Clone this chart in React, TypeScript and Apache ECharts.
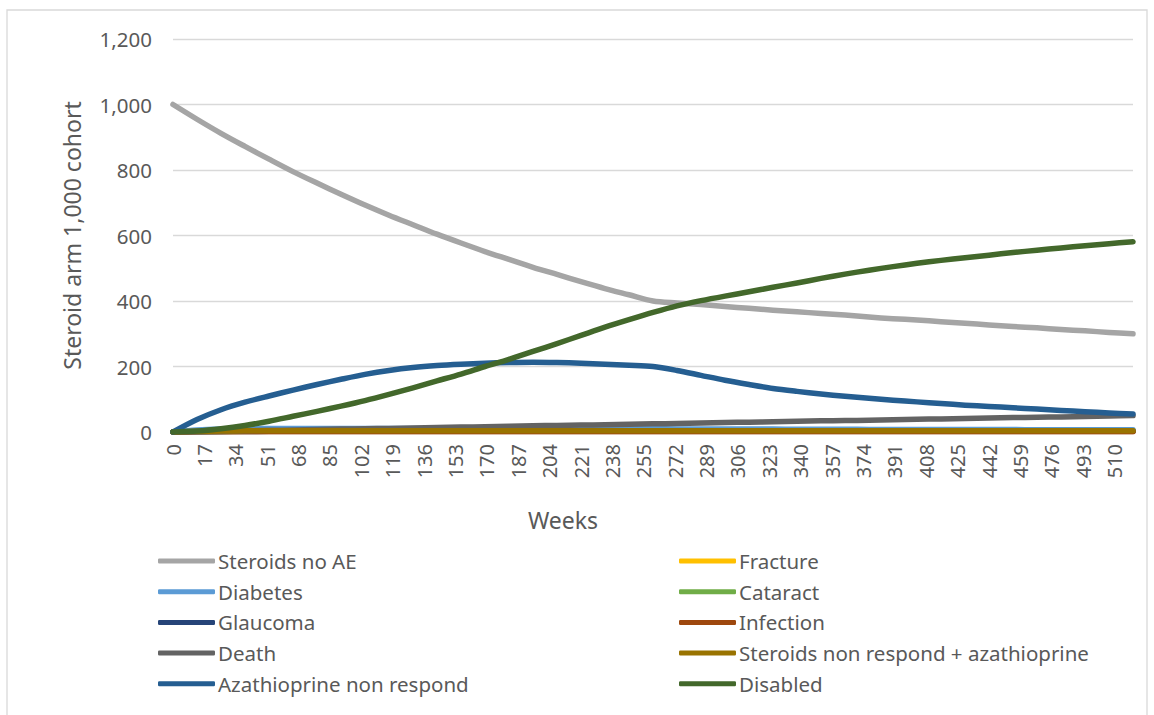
import React, { useEffect, useRef } from "react";
import * as echarts from "echarts";

const weeks = [0, 13, 26, 39, 52, 65, 78, 91, 104, 117, 130, 143, 156, 169, 182, 195, 208, 221, 234, 247, 260, 273, 286, 299, 312, 325, 338, 351, 364, 377, 390, 403, 416, 429, 442, 455, 468, 481, 494, 507, 520];

const steroidsNoAE = [1000, 955, 912, 872, 833, 795, 760, 726, 693, 662, 633, 604, 577, 551, 527, 503, 481, 459, 438, 419, 400, 394, 389, 383, 378, 372, 367, 362, 357, 351, 346, 342, 337, 332, 327, 322, 318, 313, 309, 304, 300];
const fracture = [0, 1, 1.5, 2, 2, 2, 2, 2, 2, 2, 2, 2, 2, 2, 2, 2, 2, 2, 2, 2, 2, 2, 2, 2, 2, 2, 2, 2, 2, 2, 2, 2, 2, 2, 2, 2, 2, 2, 2, 2, 2];
const diabetes = [0, 6, 9, 10, 11, 11, 11, 11, 11, 11, 11, 11, 10.5, 10.5, 10.5, 10, 10, 10, 10, 10, 10, 9.5, 9.5, 9, 9, 9, 8.5, 8.5, 8.5, 8, 8, 8, 8, 7.5, 7.5, 7.5, 7, 7, 7, 7, 7];
const cataract = [0, 1, 2, 2.5, 3, 3, 3, 3, 3, 3, 3, 3, 3, 3, 3, 3, 3, 3, 3, 3, 3, 3, 3, 3, 3, 3, 3, 3, 3, 3, 3, 3, 3, 3, 3, 3, 3, 3, 3, 3, 3];
const glaucoma = [0, 0.5, 1, 1.5, 2, 2, 2, 2, 2, 2, 2, 2, 2, 2, 2, 2, 2, 2, 2, 2, 2, 2, 2, 2, 2, 2, 2, 2, 2, 2, 2, 2, 2, 2, 2, 2, 2, 2, 2, 2, 2];
const infection = [0, 0.5, 1, 1, 1, 1, 1, 1, 1, 1, 1, 1, 1, 1, 1, 1, 1, 1, 1, 1, 1, 1, 1, 1, 1, 1, 1, 1, 1, 1, 1, 1, 1, 1, 1, 1, 1, 1, 1, 1, 1];
const death = [0, 1, 2.5, 4, 5, 6, 7.5, 9, 10, 11, 12.5, 14, 15, 16, 17.5, 19, 20, 21, 22.5, 24, 25, 26, 27.5, 29, 30, 31, 32.5, 34, 35, 36, 37.5, 39, 40, 41, 42.5, 44, 45, 46, 47.5, 49, 50];
const steroidsNonRespondAza = [0, 2, 3, 3.5, 4, 4, 4, 4, 4, 4, 4, 4, 4, 4, 4, 4, 4, 4, 4, 4, 4, 4, 4, 4, 4, 4, 4, 4, 4, 4, 4, 4, 4, 4, 4, 4, 4, 4, 4, 4, 4];
const azathioprineNonRespond = [0, 38, 68, 91, 110, 128, 145, 161, 176, 188, 197, 203, 207, 210, 212, 213, 212, 210, 207, 204, 200, 188, 173, 158, 145, 133, 124, 116, 109, 103, 97, 92, 87, 82, 78, 74, 70, 66, 62, 58, 55];
const disabled = [0, 3, 10, 20, 33, 48, 63, 79, 96, 115, 135, 156, 177, 200, 222, 246, 270, 295, 320, 343, 365, 385, 401, 415, 428, 442, 455, 469, 482, 494, 505, 515, 524, 532, 540, 548, 555, 562, 569, 575, 581];

const seriesNames = [
  "Steroids no AE",
  "Fracture",
  "Diabetes",
  "Cataract",
  "Glaucoma",
  "Infection",
  "Death",
  "Steroids non respond + azathioprine",
  "Azathioprine non respond",
  "Disabled",
];
const seriesValues = [
  steroidsNoAE,
  fracture,
  diabetes,
  cataract,
  glaucoma,
  infection,
  death,
  steroidsNonRespondAza,
  azathioprineNonRespond,
  disabled,
];
const seriesColors = [
  "#A5A5A5",
  "#FFC000",
  "#5B9BD5",
  "#70AD47",
  "#264478",
  "#9E480E",
  "#636363",
  "#997300",
  "#255E91",
  "#43682B",
];

const leftLegend = ["Steroids no AE", "Diabetes", "Glaucoma", "Death", "Azathioprine non respond"];
const rightLegend = ["Fracture", "Cataract", "Infection", "Steroids non respond + azathioprine", "Disabled"];

const FONT = "'Noto Sans', 'Open Sans', sans-serif";
const TEXT = "#595959";

export default function App() {
  const ref = useRef<HTMLDivElement>(null);

  useEffect(() => {
    if (!ref.current) return;
    const chart = echarts.init(ref.current, null, { renderer: "svg" });

    const legendCommon = {
      orient: "vertical" as const,
      top: 549,
      padding: 0,
      itemWidth: 57,
      itemHeight: 5,
      itemGap: 6.7,
      icon: "roundRect",
      selectedMode: false,
      textStyle: { fontFamily: FONT, fontSize: 20.5, color: TEXT, lineHeight: 24, padding: [0, 0, 0, -2] },
    };

    chart.setOption({
      animation: false,
      backgroundColor: "#FFFFFF",
      textStyle: { fontFamily: FONT },
      grid: { left: 173, right: 21, top: 39, bottom: 283, containLabel: false },
      legend: [
        { ...legendCommon, left: 158, data: leftLegend },
        { ...legendCommon, left: 679, data: rightLegend },
      ],
      graphic: [
        {
          type: "rect",
          shape: { x: 7, y: 10, width: 1140, height: 710 },
          style: { fill: "none", stroke: "#D9D9D9", lineWidth: 1.3 },
          silent: true,
        },
        {
          type: "text",
          x: 563,
          y: 520,
          style: {
            text: "Weeks",
            align: "center",
            verticalAlign: "middle",
            fontSize: 23,
            fontFamily: FONT,
            fill: TEXT,
          },
        },
      ],
      xAxis: {
        type: "value",
        min: 0,
        max: 520,
        interval: 17,
        axisLine: { show: true, lineStyle: { color: "#D9D9D9", width: 1.3 } },
        axisTick: { show: false },
        splitLine: { show: false },
        axisLabel: {
          rotate: 90,
          margin: 12,
          fontSize: 20,
          color: TEXT,
          fontFamily: FONT,
          showMaxLabel: false,
          formatter: (v: number) => (v % 17 === 0 ? String(v) : ""),
        },
      },
      yAxis: {
        type: "value",
        min: 0,
        max: 1200,
        interval: 200,
        name: "Steroid arm 1,000 cohort",
        nameLocation: "middle",
        nameGap: 90,
        nameRotate: 90,
        nameTextStyle: { fontSize: 23, color: TEXT, fontFamily: FONT },
        axisLine: { show: false },
        axisTick: { show: false },
        splitLine: { lineStyle: { color: "#D9D9D9", width: 1.3 } },
        axisLabel: {
          margin: 21,
          fontSize: 20.5,
          color: TEXT,
          fontFamily: FONT,
          formatter: (v: number) => v.toLocaleString("en-US"),
        },
      },
      series: seriesNames.map((name, i) => ({
        name,
        type: "line",
        showSymbol: false,
        symbol: "none",
        smooth: 0.3,
        color: seriesColors[i],
        lineStyle: { width: 5.5, color: seriesColors[i], cap: "round", join: "round" },
        data: weeks.map((w, j) => [w, seriesValues[i][j]]),
      })),
    });

    return () => chart.dispose();
  }, []);

  return (
    <div
      ref={ref}
      style={{ position: "fixed", left: 0, top: 0, width: 1154, height: 715 }}
    />
  );
}
